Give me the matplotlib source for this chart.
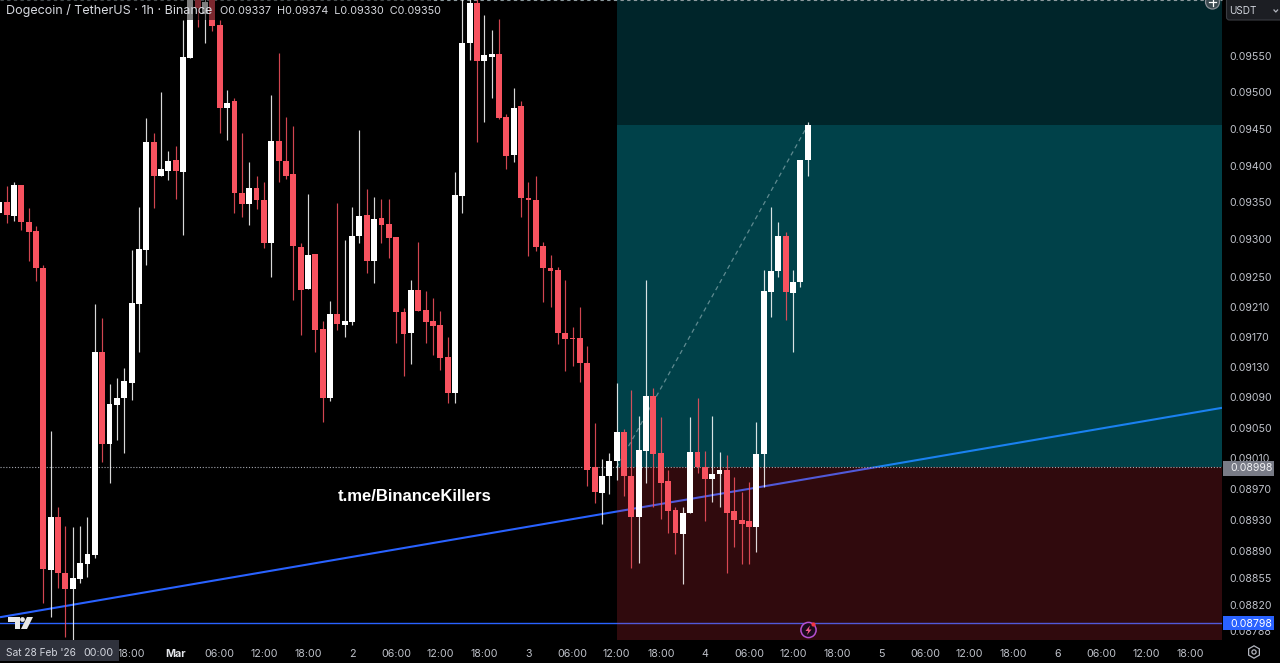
import matplotlib
matplotlib.use("Agg")
import matplotlib.pyplot as plt
from matplotlib.patches import Rectangle, Polygon, Circle, RegularPolygon, FancyBboxPatch
from matplotlib.ticker import FixedLocator, FixedFormatter, NullLocator
from matplotlib.transforms import blended_transform_factory

plt.rcParams['font.family'] = ['Inter', 'DejaVu Sans']

first_bar = -24
opens = [0.09336,0.09350,0.09332,0.09373,0.09324,0.09311,0.09261,0.08866,0.08934,0.08862,0.08841,0.08854,0.08873,0.08885,0.09149,0.09028,0.09080,0.09089,0.09109,0.09214,0.09286,0.09432,0.09386,0.09392,
0.09407,0.09391,0.09547,0.09630,0.09608,0.09628,0.09593,0.09478,0.09488,0.09363,0.09348,0.09369,0.09353,0.09295,0.09433,0.09406,0.09388,0.09290,0.09234,0.09281,0.09180,0.09089,0.09200,0.09186,0.09190,0.09305,0.09333,0.09271,0.09329,0.09321,
0.09303,0.09203,0.09175,0.09232,0.09206,0.09191,0.09186,0.09143,0.09095,0.09359,0.09568,0.09624,0.09543,0.09549,0.09553,0.09466,0.09414,0.09481,0.09356,0.09353,0.09291,0.09262,0.09259,0.09175,0.09168,0.09168,0.09135,0.08998,0.08965,0.08987,
0.09007,0.09044,0.08987,0.08934,0.09020,0.09091,0.09017,0.08981,0.08943,0.08912,0.08939,0.09018,0.08998,0.08983,0.08989,0.08995,0.08941,0.08930,0.08928,0.08921,0.09016,0.09230,0.09257,0.09305,0.09228,0.09243,0.09407]
highs = [0.09350,0.09372,0.09377,0.09373,0.09342,0.09318,0.09266,0.09046,0.08946,0.08922,0.08921,0.08922,0.08934,0.09214,0.09195,0.09107,0.09115,0.09129,0.09286,0.09344,0.09465,0.09445,0.09500,0.09420,
0.09426,0.09600,0.09640,0.09640,0.09640,0.09640,0.09600,0.09503,0.09492,0.09445,0.09405,0.09386,0.09378,0.09496,0.09554,0.09466,0.09454,0.09295,0.09362,0.09281,0.09191,0.09218,0.09349,0.09299,0.09344,0.09448,0.09368,0.09357,0.09354,0.09354,
0.09303,0.09208,0.09246,0.09297,0.09231,0.09222,0.09204,0.09170,0.09391,0.09640,0.09640,0.09630,0.09607,0.09586,0.09602,0.09471,0.09506,0.09488,0.09378,0.09386,0.09297,0.09279,0.09263,0.09245,0.09183,0.09210,0.09158,0.09056,0.09009,0.09017,
0.09109,0.09048,0.09099,0.09065,0.09246,0.09102,0.09064,0.08995,0.08947,0.08946,0.09064,0.09089,0.09020,0.09065,0.09018,0.09014,0.08985,0.08966,0.08979,0.09057,0.09259,0.09344,0.09324,0.09310,0.09259,0.09407,0.09459]
lows = [0.09336,0.09322,0.09325,0.09313,0.09271,0.09244,0.08823,0.08805,0.08842,0.08780,0.08776,0.08849,0.08857,0.08881,0.09005,0.08978,0.09034,0.09017,0.09086,0.09150,0.09265,0.09342,0.09386,0.09380,
0.09354,0.09306,0.09547,0.09590,0.09568,0.09585,0.09444,0.09435,0.09336,0.09330,0.09320,0.09341,0.09289,0.09250,0.09378,0.09382,0.09219,0.09172,0.09234,0.09150,0.09057,0.09085,0.09179,0.09170,0.09186,0.09295,0.09255,0.09242,0.09295,0.09275,
0.09162,0.09118,0.09134,0.09204,0.09162,0.09146,0.09126,0.09082,0.09082,0.09336,0.09545,0.09432,0.09459,0.09492,0.09463,0.09395,0.09405,0.09330,0.09278,0.09285,0.09216,0.09210,0.09160,0.09125,0.09131,0.09110,0.08974,0.08952,0.08924,0.08964,
0.08982,0.08961,0.08868,0.08875,0.08978,0.08947,0.08931,0.08913,0.08886,0.08848,0.08939,0.08991,0.08928,0.08953,0.08946,0.08861,0.08895,0.08873,0.08873,0.08888,0.08973,0.09196,0.09249,0.09192,0.09150,0.09236,0.09386]
closes = [0.09350,0.09333,0.09373,0.09324,0.09310,0.09261,0.08867,0.08934,0.08862,0.08841,0.08855,0.08875,0.08886,0.09149,0.09028,0.09081,0.09089,0.09111,0.09215,0.09287,0.09432,0.09386,0.09395,0.09406,
0.09392,0.09549,0.09630,0.09617,0.09625,0.09592,0.09478,0.09486,0.09363,0.09348,0.09369,0.09353,0.09295,0.09433,0.09406,0.09386,0.09291,0.09232,0.09279,0.09179,0.09089,0.09200,0.09187,0.09191,0.09305,0.09332,0.09271,0.09328,0.09320,0.09302,
0.09203,0.09174,0.09232,0.09204,0.09190,0.09184,0.09142,0.09095,0.09360,0.09568,0.09624,0.09543,0.09552,0.09553,0.09465,0.09413,0.09479,0.09356,0.09353,0.09290,0.09261,0.09258,0.09175,0.09167,0.09167,0.09135,0.08995,0.08966,0.08987,0.09007,
0.09044,0.08987,0.08934,0.09021,0.09091,0.09016,0.08978,0.08941,0.08913,0.08939,0.09018,0.08998,0.08983,0.08990,0.08995,0.08939,0.08930,0.08925,0.08921,0.09016,0.09231,0.09257,0.09305,0.09230,0.09243,0.09407,0.09455]

time_ticks = [-6,0,6,12,18,24,30,36,42,48,54,60,66,72,78,84,90,96,102,108,114,120,126,132,138]
time_labels = ['18:00','Mar','06:00','12:00','18:00','2','06:00','12:00','18:00','3','06:00','12:00','18:00','4','06:00','12:00','18:00','5','06:00','12:00','18:00','6','06:00','12:00','18:00']
price_ticks = [0.09550,0.09500,0.09450,0.09400,0.09350,0.09300,0.09250,0.09210,0.09170,0.09130,0.09090,0.09050,0.09010,0.08970,0.08930,0.08890,0.08855,0.08820,0.08788]
price_labels = ['%.5f' % p for p in price_ticks]

entry_price = 0.08998
target_price = 0.09455
upper_price = 0.09628
lower_price = 0.08776
level_price = 0.08798
zone_start = 60
trend_x = [-23.9, 142.36]
trend_y = [0.08805, 0.09076]
x_limits = (-23.9, 142.36)

UP = '#ffffff'
DOWN = '#f7525f'
BLUE = '#2962ff'

fig = plt.figure(figsize=(12.8, 6.63), dpi=100, facecolor='black')
ax = fig.add_axes([0, 23/663, 1222/1280, 640/663], facecolor='black')
ax.set_yscale('log')
ax.set_xlim(*x_limits)
ax.set_ylim(lower_price, upper_price)

for s in ax.spines.values():
    s.set_visible(False)

ax.yaxis.tick_right()
ax.yaxis.set_major_locator(FixedLocator(price_ticks))
ax.yaxis.set_major_formatter(FixedFormatter(price_labels))
ax.yaxis.set_minor_locator(NullLocator())
ax.tick_params(axis='y', length=0, pad=5.0, labelsize=7.6, labelcolor='#bfc2ca')
ax.set_xticks(time_ticks)
ax.set_xticklabels(time_labels)
ax.tick_params(axis='x', length=0, pad=6.4, labelsize=7.7, labelcolor='#bfc2ca')
for lab, txt in zip(ax.get_xticklabels(), time_labels):
    if txt == 'Mar':
        lab.set_fontweight('bold')
        lab.set_color('#e4e6ea')

# lines beneath the translucent zones
ax.plot(trend_x, trend_y, color=BLUE, lw=1.5, zorder=1, solid_capstyle='butt')
ax.plot(x_limits, [level_price]*2, color=BLUE, lw=1.0, zorder=1)

# position zones
ax.fill_between([zone_start, x_limits[1]], entry_price, target_price, color='#00bcd4', alpha=0.35, lw=0, zorder=2)
ax.fill_between([zone_start, x_limits[1]], target_price, upper_price, color='#00bcd4', alpha=0.20, lw=0, zorder=2)
ax.fill_between([zone_start, x_limits[1]], lower_price, entry_price, color='#f23645', alpha=0.20, lw=0, zorder=2)

ax.plot(x_limits, [entry_price]*2, color='#a5a8b0', lw=0.8, ls=(0, (1, 1.6)), zorder=3)
ax.plot(x_limits, [upper_price*0.99995]*2, color='#8d9a9e', lw=0.8, ls=(0, (3, 3)), zorder=3, clip_on=False)
ax.plot([zone_start, first_bar + len(opens) - 1], [entry_price, target_price], color='#5f8a90', lw=0.9, ls=(0, (3.5, 3)), zorder=3)

# candles
idx = [first_bar + k for k in range(len(opens))]
colors = [UP if c >= o else DOWN for o, c in zip(opens, closes)]
ax.vlines(idx, lows, highs, colors=colors, lw=0.85, alpha=0.85, zorder=4)
ax.bar(idx, [max(abs(c - o), 0.00001) for o, c in zip(opens, closes)],
       bottom=[min(o, c) for o, c in zip(opens, closes)], width=0.8,
       color=colors, lw=0, zorder=5)

ax.text(0.3389, entry_price - 0.000375, 't.me/BinanceKillers', transform=ax.get_yaxis_transform(),
        ha='center', va='center', color='white', fontsize=12, fontweight='bold',
        family=['Liberation Sans', 'DejaVu Sans'], zorder=6)

# chrome in pixel coordinates
ov = fig.add_axes([0, 0, 1, 1], zorder=10)
ov.set_xlim(0, 1280)
ov.set_ylim(663, 0)
ov.axis('off')
ov.patch.set_alpha(0)

ov.add_patch(Rectangle((0, 0), 430, 20, fc='black', alpha=0.5, lw=0))
ov.text(6, 10.5, 'Dogecoin / TetherUS · 1h · Binance', color='#d6d8de', fontsize=9.05, va='center', ha='left')
ov.text(220, 10.5, 'O0.09337  H0.09374  L0.09330  C0.09350', color='#d6d8de', fontsize=7.8, va='center', ha='left')

# logo
logo = '#e8e8e8'
ov.add_patch(Polygon([(8, 617), (20, 617), (20, 629), (15, 629), (15, 622), (8, 622)], fc=logo, lw=0))
ov.add_patch(Circle((22.5, 619.5), 2.4, fc=logo, lw=0))
ov.add_patch(Polygon([(27, 617), (33, 617), (27, 629), (21, 629)], fc=logo, lw=0))

# crosshair time label
ov.add_patch(Rectangle((0, 640), 118.5, 20.5, fc='#2f323c', lw=0))
ov.text(5.5, 652.5, "Sat 28 Feb '26", color='#d1d4dc', fontsize=7.3, va='center', ha='left')
ov.text(83, 652.5, '00:00', color='#d1d4dc', fontsize=7.7, va='center', ha='left')

# price tags
price_tf = blended_transform_factory(ov.transData, ax.transData)
ov.add_patch(Rectangle((1223, 460.5), 51, 15, fc='#787b86', lw=0))
ov.text(1230, entry_price, '%.5f' % entry_price, transform=price_tf, color='#f0f0f2', fontsize=7.6, va='center_baseline', ha='left')
ov.add_patch(Rectangle((1223, 615.5), 51, 14.5, fc=BLUE, lw=0))
ov.text(1230, level_price, '%.5f' % level_price, transform=price_tf, color='white', fontsize=7.6, va='center_baseline', ha='left')

# currency button
ov.add_patch(FancyBboxPatch((1226.5, -6), 60, 26, boxstyle='round,pad=0,rounding_size=3', fc='#1c1e23', ec='#3a3c42', lw=0.8))
ov.text(1229, 10.5, 'USDT', color='#d1d4dc', fontsize=7.2, va='center', ha='left')
ov.plot([1274, 1275.8, 1277.6], [10, 12, 10], color='#b2b5be', lw=0.9)

# add-order button
ov.add_patch(Circle((1212.5, 2), 7, fc='#3b4a50', ec='#8a8f96', lw=0.9))
ov.plot([1209, 1216], [2, 2], color='white', lw=0.9)
ov.plot([1212.5, 1212.5], [0, 5.5], color='white', lw=0.9)

# event marker
ov.add_patch(Circle((808.5, 630), 7.6, fc='#1b0a1c', ec='#b44fd0', lw=1.1))
ov.add_patch(Polygon([(810, 625.5), (805.5, 631), (808.2, 631), (807, 635), (811.5, 629.5), (808.8, 629.5)], fc='#f0598a', lw=0))
ov.add_patch(Circle((813.5, 624.5), 2.1, fc='#f23645', lw=0))

# settings icon
ov.add_patch(RegularPolygon((1254, 652), 6, radius=6.2, fc='none', ec='#b2b5be', lw=0.9))
ov.add_patch(Circle((1254, 652), 2.1, fc='none', ec='#b2b5be', lw=0.9))

fig.savefig('out.png', dpi=100, facecolor='black')
